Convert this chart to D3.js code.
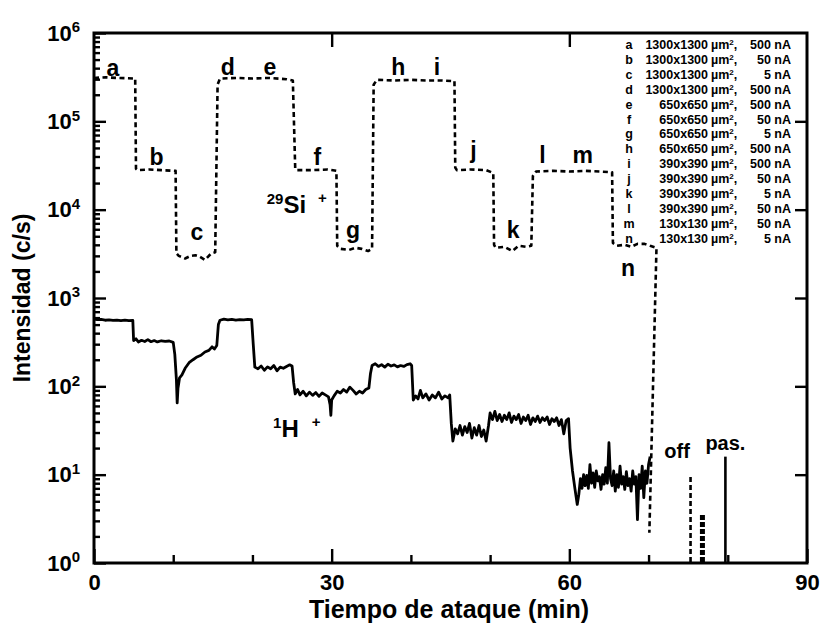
<!DOCTYPE html>
<html>
<head>
<meta charset="utf-8">
<script src="https://cdn.jsdelivr.net/npm/d3@7"></script>
<style>
  body { margin: 0; background: #fff; }
  svg { display: block; }
  text { font-family: "Liberation Sans", Arial, Helvetica, sans-serif; font-weight: bold; fill: #000; }
</style>
</head>
<body>
<svg id="chart" width="823" height="628"></svg>
<script>
// ---- axis ticks ----
const xMajorTicks = [0, 30, 60, 90];
const xMinorTicks = [10, 20, 40, 50, 70, 80];
const yDecadeExponents = [0, 1, 2, 3, 4, 5, 6];

// ---- 29Si+ trace: [time (min), counts/s] ----
const si29Trace = [
  [0, 3.1e5], [1.5, 3.15e5], [3, 3.1e5], [5.2, 3.05e5],
  [5.3, 2.9e4], [5.5, 2.8e4], [7, 2.85e4], [8.5, 2.8e4], [10.3, 2.75e4],
  [10.4, 3.2e3], [10.7, 3.0e3], [11.5, 2.8e3], [12.2, 3.0e3], [12.8, 3.05e3], [13.3, 2.95e3],
  [14.0, 2.7e3], [14.8, 3.2e3], [15.3, 3.3e3],
  [15.6, 2.6e5], [15.9, 3.05e5], [18, 3.1e5], [20, 3.05e5], [22, 3.1e5], [24.3, 3.0e5], [25.1, 2.9e5],
  [25.4, 2.9e4], [25.6, 2.8e4], [27.5, 2.8e4], [29.5, 2.85e4], [30.6, 2.75e4],
  [30.7, 3.9e3], [31.1, 3.6e3], [32.2, 3.5e3], [33.0, 3.7e3], [33.8, 3.6e3], [34.6, 3.4e3], [35.1, 3.6e3],
  [35.3, 2.6e5], [35.7, 2.95e5], [38, 2.9e5], [40, 2.95e5], [42, 2.9e5], [44, 2.9e5], [45.5, 2.85e5],
  [45.6, 3.0e4], [45.8, 2.8e4], [47.5, 2.85e4], [49.5, 2.8e4], [50.4, 2.6e4],
  [50.5, 4.0e3], [50.7, 3.7e3], [51.8, 3.8e3], [52.8, 3.4e3], [53.6, 3.9e3], [54.5, 3.8e3], [55.2, 3.9e3],
  [55.4, 2.4e4], [55.8, 2.7e4], [58, 2.75e4], [60, 2.7e4], [62, 2.75e4], [64, 2.7e4], [65.4, 2.65e4],
  [65.5, 4.2e3], [66, 3.9e3], [67, 4.0e3], [67.8, 3.8e3], [68.6, 4.1e3], [69.5, 4.1e3], [70.2, 3.9e3],
  [71.0, 3.7e3], [70.1, 2.2]
];

// ---- 1H+ trace: [time (min), counts/s] ----
const h1Trace = [
  [0, 575], [0.4, 568], [0.9, 572], [1.4, 560], [1.9, 566], [2.4, 558], [2.9, 563], [3.4, 556], [3.9, 562], [4.4, 554], [4.9, 558],
  [5.0, 330], [5.3, 345], [5.6, 318], [6.0, 332], [6.4, 322], [6.8, 338], [7.2, 320], [7.6, 330], [8.0, 318], [8.5, 328], [9.0, 322], [9.5, 326], [10.0, 315],
  [10.2, 230], [10.4, 120], [10.5, 65], [10.6, 95], [10.8, 125], [11.1, 135], [11.5, 160], [12.0, 185], [12.5, 200], [13.0, 215],
  [13.5, 225], [14.0, 245], [14.5, 255], [14.9, 280], [15.2, 265], [15.5, 290],
  [15.7, 500], [15.9, 560], [16.4, 575], [16.9, 565], [17.4, 572], [17.9, 562], [18.4, 570], [18.9, 566], [19.4, 573], [19.9, 568],
  [20.1, 300], [20.3, 165], [20.7, 158], [21.1, 170], [21.5, 152], [21.9, 166], [22.3, 158], [22.7, 172], [23.1, 150], [23.5, 165],
  [23.9, 160], [24.3, 168], [24.7, 175], [25.0, 170],
  [25.2, 110], [25.4, 82], [25.7, 92], [26.0, 80], [26.4, 88], [26.8, 78], [27.2, 86], [27.6, 79], [28.0, 85], [28.4, 77], [28.8, 84],
  [29.2, 80], [29.6, 76], [29.8, 62], [29.9, 47], [30.0, 70], [30.3, 78], [30.7, 88], [31.1, 84], [31.5, 92], [31.9, 86], [32.3, 98],
  [32.7, 90], [33.1, 82], [33.5, 88], [33.9, 84], [34.3, 92], [34.7, 96],
  [34.9, 140], [35.1, 172], [35.5, 180], [35.9, 168], [36.3, 176], [36.7, 165], [37.1, 178], [37.5, 170], [37.9, 175], [38.3, 166],
  [38.7, 172], [39.1, 168], [39.5, 176], [39.9, 180], [40.1, 172],
  [40.3, 70], [40.6, 78], [40.9, 72], [41.2, 90], [41.5, 74], [41.9, 82], [42.3, 70], [42.7, 80], [43.1, 74], [43.5, 86], [43.9, 72],
  [44.3, 78], [44.7, 74], [44.9, 80],
  [45.1, 38], [45.3, 24], [45.6, 33], [45.9, 29], [46.2, 36], [46.5, 28], [46.8, 35], [47.1, 30], [47.4, 38], [47.7, 26], [48.0, 34],
  [48.3, 28], [48.6, 36], [48.9, 27], [49.2, 32], [49.5, 24], [49.8, 36],
  [50.0, 50], [50.3, 42], [50.6, 52], [50.9, 41], [51.2, 48], [51.5, 40], [51.8, 47], [52.1, 42], [52.4, 50], [52.7, 39], [53.0, 46],
  [53.3, 42], [53.6, 48], [53.9, 38], [54.2, 45], [54.5, 41], [54.8, 47], [55.1, 37], [55.4, 44], [55.7, 40], [56.0, 46], [56.3, 39],
  [56.6, 44], [56.9, 41], [57.2, 45], [57.5, 37], [57.8, 43], [58.1, 40], [58.4, 44], [58.7, 36], [59.0, 42], [59.3, 29], [59.6, 41], [59.9, 43],
  [60.1, 20], [60.4, 11], [60.7, 7], [61.0, 4.6], [61.2, 6], [61.4, 9], [61.6, 7], [61.8, 10], [62.0, 7.5], [62.2, 9.8], [62.4, 7],
  [62.6, 13], [62.8, 8], [63.0, 10.5], [63.2, 7.2], [63.4, 11], [63.6, 8.5], [63.8, 9.5], [64.0, 6.8], [64.2, 10], [64.4, 7.8],
  [64.6, 12], [64.8, 8], [65.0, 23], [65.2, 9], [65.4, 7.5], [65.6, 11], [65.8, 6.5], [66.0, 10], [66.2, 7.2], [66.4, 12.5],
  [66.6, 7.8], [66.8, 9.5], [67.0, 6.8], [67.2, 10.8], [67.4, 7.5], [67.6, 9], [67.8, 6.5], [68.0, 11], [68.2, 7.8], [68.4, 9.5],
  [68.6, 3.1], [68.8, 10], [69.0, 7], [69.2, 12.5], [69.4, 5.5], [69.6, 11], [69.8, 8], [70.0, 13], [70.2, 16]
];

// ---- beam-off and passivation markers ----
const offTrace = [[75.3, 9.4], [75.3, 1]];
const offTraceRest = [[76.8, 3.5], [76.8, 1]];
const pasTrace = [[79.7, 16], [79.7, 1]];

// ---- step annotations (data coordinates of the letter) ----
const stepLetters = ["a", "b", "c", "d", "e", "f", "g", "h", "i", "j", "k", "l", "m", "n"];
const stepLetterTime = [2.4, 7.9, 13.0, 16.9, 22.2, 28.2, 32.7, 38.4, 43.3, 47.9, 52.9, 56.6, 61.7, 67.4];
const stepLetterCounts = [4.0e5, 4.0e4, 5.6e3, 4.1e5, 4.1e5, 4.0e4, 5.9e3, 4.1e5, 4.1e5, 4.7e4, 5.9e3, 4.2e4, 4.2e4, 2.2e3];

// ---- legend: raster size and primary current of each step ----
const legendArea = ["1300x1300", "1300x1300", "1300x1300", "1300x1300", "650x650", "650x650", "650x650",
                    "650x650", "390x390", "390x390", "390x390", "390x390", "130x130", "130x130"];
const legendCurrent = ["500 nA", "50 nA", "5 nA", "500 nA", "500 nA", "50 nA", "5 nA",
                       "500 nA", "500 nA", "50 nA", "5 nA", "50 nA", "50 nA", "5 nA"];

// ---- layout ----
const svg = d3.select("#chart");
const plotLeft = 94, plotRight = 807, plotTop = 33, plotBottom = 563;

const x = d3.scaleLinear().domain([0, 90]).range([plotLeft, plotRight]);
const y = d3.scaleLog().domain([1, 1e6]).range([plotBottom, plotTop]);

const line = d3.line().x(d => x(d[0])).y(d => y(d[1]));

// traces
svg.append("path").datum(h1Trace)
  .attr("d", line).attr("fill", "none").attr("stroke", "#000")
  .attr("stroke-width", 2.8).attr("stroke-linejoin", "round");

svg.append("path").datum(si29Trace)
  .attr("d", line).attr("fill", "none").attr("stroke", "#000")
  .attr("stroke-width", 2.6).attr("stroke-dasharray", "5,3.5").attr("stroke-linejoin", "round");

svg.append("path").datum(offTrace)
  .attr("d", line).attr("fill", "none").attr("stroke", "#000")
  .attr("stroke-width", 2.6).attr("stroke-dasharray", "5,3");
svg.append("path").datum(offTraceRest)
  .attr("d", line).attr("fill", "none").attr("stroke", "#000")
  .attr("stroke-width", 5).attr("stroke-dasharray", "5,2");
svg.append("path").datum(pasTrace)
  .attr("d", line).attr("fill", "none").attr("stroke", "#000")
  .attr("stroke-width", 2.6);

// axes (ticks drawn inward)
function styleAxis(g) {
  g.select(".domain").remove();
  g.selectAll(".tick line").attr("stroke", "#000").attr("stroke-width", 2.4);
}

const bottomAxis = svg.append("g").attr("transform", `translate(0,${plotBottom})`)
  .call(d3.axisBottom(x).tickValues(xMajorTicks).tickSize(-14).tickPadding(11).tickFormat(d3.format("d")));
styleAxis(bottomAxis);
bottomAxis.selectAll("text").attr("font-size", 22).attr("font-family", null);

const bottomMinor = svg.append("g").attr("transform", `translate(0,${plotBottom})`)
  .call(d3.axisBottom(x).tickValues(xMinorTicks).tickSize(-8).tickFormat(""));
styleAxis(bottomMinor);

const topAxis = svg.append("g").attr("transform", `translate(0,${plotTop})`)
  .call(d3.axisTop(x).tickValues([30, 60]).tickSize(-14).tickFormat(""));
styleAxis(topAxis);

const decades = yDecadeExponents.map(e => Math.pow(10, e));
const leftAxis = svg.append("g").attr("transform", `translate(${plotLeft},0)`)
  .call(d3.axisLeft(y).tickValues(decades).tickSize(-12).tickPadding(14).tickFormat(""));
styleAxis(leftAxis);
leftAxis.selectAll(".tick text").each(function(d) {
  const t = d3.select(this).attr("font-size", 22).attr("font-family", null);
  t.text("10");
  t.append("tspan").attr("font-size", 15).attr("dy", "-0.55em").text(Math.round(Math.log10(d)));
});

const minorValues = [];
yDecadeExponents.slice(0, -1).forEach(e => {
  for (let m = 2; m <= 9; m++) minorValues.push(m * Math.pow(10, e));
});
const leftMinor = svg.append("g").attr("transform", `translate(${plotLeft},0)`)
  .call(d3.axisLeft(y).tickValues(minorValues).tickSize(-6).tickFormat(""));
styleAxis(leftMinor);

const rightAxis = svg.append("g").attr("transform", `translate(${plotRight},0)`)
  .call(d3.axisRight(y).tickValues(decades.slice(1, -1)).tickSize(-12).tickFormat(""));
styleAxis(rightAxis);

// frame
svg.append("rect")
  .attr("x", plotLeft).attr("y", plotTop).attr("width", plotRight - plotLeft).attr("height", plotBottom - plotTop)
  .attr("fill", "none").attr("stroke", "#000").attr("stroke-width", 3);

// axis titles
svg.append("text")
  .attr("x", 449).attr("y", 618)
  .attr("text-anchor", "middle").attr("font-size", 25)
  .text("Tiempo de ataque (min)");

svg.append("text")
  .attr("transform", `translate(30,${(plotTop + plotBottom) / 2}) rotate(-90)`)
  .attr("text-anchor", "middle").attr("font-size", 23)
  .text("Intensidad (c/s)");

// step letters
svg.append("g").selectAll("text").data(stepLetters).join("text")
  .attr("x", (d, i) => x(stepLetterTime[i]))
  .attr("y", (d, i) => y(stepLetterCounts[i]))
  .attr("dy", "0.35em")
  .attr("text-anchor", "middle").attr("font-size", 23)
  .text(d => d);

// species labels
const siLabel = svg.append("text")
  .attr("x", x(21.8)).attr("y", y(9.2e3)).attr("font-size", 24);
siLabel.append("tspan").attr("font-size", 15).attr("dy", -9).text("29");
siLabel.append("tspan").attr("dy", 9).text("Si");
siLabel.append("tspan").attr("font-size", 15).attr("dx", 12).attr("dy", -10).text("+");

const hLabel = svg.append("text")
  .attr("x", x(22.6)).attr("y", y(26.7)).attr("font-size", 24);
hLabel.append("tspan").attr("font-size", 15).attr("dy", -9).text("1");
hLabel.append("tspan").attr("dy", 9).text("H");
hLabel.append("tspan").attr("font-size", 15).attr("dx", 13).attr("dy", -10).text("+");

svg.append("text").attr("x", x(73.6)).attr("y", y(15.5))
  .attr("text-anchor", "middle").attr("font-size", 20).text("off");
svg.append("text").attr("x", x(79.7)).attr("y", y(19))
  .attr("text-anchor", "middle").attr("font-size", 20).text("pas.");

// legend
const legend = svg.append("g").attr("font-size", 12.5);
stepLetters.forEach((s, i) => {
  const yy = 49 + 14.9 * i;
  legend.append("text").attr("x", 629).attr("y", yy).attr("text-anchor", "middle").text(s);
  legend.append("text").attr("x", 708).attr("y", yy).attr("text-anchor", "end").text(legendArea[i]);
  const u = legend.append("text").attr("x", 711).attr("y", yy);
  u.append("tspan").text("µm");
  u.append("tspan").attr("font-size", 8).attr("dy", -4).text("2");
  u.append("tspan").attr("dy", 4).text(",");
  legend.append("text").attr("x", 791).attr("y", yy).attr("text-anchor", "end").text(legendCurrent[i]);
});
</script>
</body>
</html>
